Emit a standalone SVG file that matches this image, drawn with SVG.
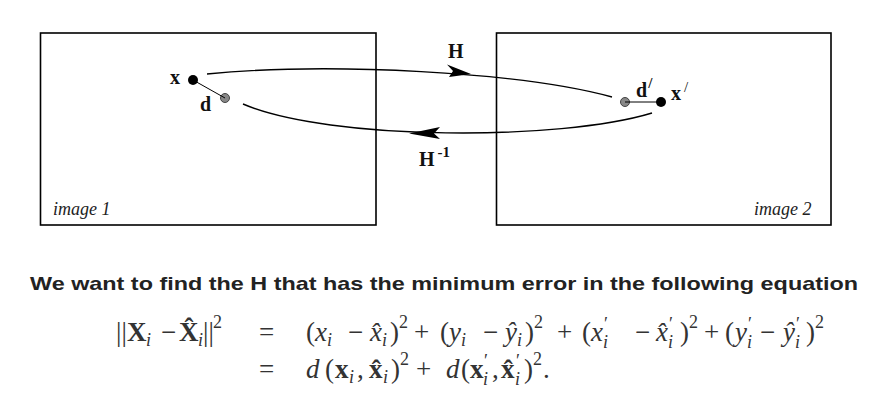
<svg xmlns="http://www.w3.org/2000/svg" width="881" height="406" viewBox="0 0 881 406">
<style>
.box{fill:none;stroke:#000;stroke-width:1.6}
.curve{fill:none;stroke:#000;stroke-width:1.4}
.lbl{font-family:"Liberation Serif","Times New Roman",serif;font-weight:bold;font-size:20px;fill:#111}
.img{font-family:"Liberation Serif","Times New Roman",serif;font-style:italic;font-size:18px;fill:#222}
.m text{font-family:"Liberation Serif","Times New Roman",serif;font-size:27px;fill:#333}
.m text.mi{font-style:italic}
.m text.mb{font-weight:bold}
.m text.sub{font-size:18px;font-style:italic}
.m text.sup{font-size:18px}
.si{font-style:italic}
</style>
<g id="image1">
<rect class="box" x="40.5" y="33" width="335.5" height="192"/>
<text class="img" x="53" y="215">image 1</text>
</g>
<g id="image2">
<rect class="box" x="496.5" y="33" width="334.5" height="192"/>
<text class="img" x="754" y="215">image 2</text>
</g>
<g id="point-x">
<circle cx="193" cy="80" r="5" fill="#000"/>
<text class="lbl" x="170" y="84" font-size="22">x</text>
</g>
<g id="point-d">
<circle cx="225" cy="98" r="4.5" fill="#888" stroke="#444" stroke-width="1"/>
<text class="lbl" x="200" y="111" font-weight="normal" font-size="22">d</text>
</g>
<g id="point-xp">
<circle cx="661" cy="102" r="5" fill="#000"/>
<text class="lbl" x="671" y="100" font-size="22">x<tspan font-weight="normal" font-size="15" dy="-8" dx="3">/</tspan></text>
</g>
<g id="point-dp">
<circle cx="625" cy="102" r="4.5" fill="#888" stroke="#444" stroke-width="1"/>
<text class="lbl" x="636" y="97" font-weight="normal" font-size="22">d<tspan font-size="15" dy="-9" dx="1">/</tspan></text>
</g>
<g id="connectors">
<line x1="193" y1="80" x2="225" y2="98" stroke="#000" stroke-width="1"/>
<line x1="625" y1="102" x2="661" y2="102" stroke="#000" stroke-width="1"/>
<path class="curve" d="M207,74 C330,62 520,72 612,97"/>
<path d="M471,74 L447,64.5 L453,71 L449,77 Z" fill="#000"/>
<path class="curve" d="M243,104 C330,141 560,141 652,113"/>
<path d="M409,133.5 L440,127 L434,133.5 L440,139 Z" fill="#000"/>
</g>
<g id="labels">
<text class="lbl" x="448" y="58">H</text>
<text class="lbl" x="419" y="166">H<tspan font-size="15" dy="-9" dx="3">-1</tspan></text>
</g>
<g id="caption">
<text x="30" y="290" font-family="Liberation Sans,Arial,sans-serif" font-weight="bold" font-size="19" fill="#222" textLength="828" lengthAdjust="spacingAndGlyphs">We want to find the H that has the minimum error in the following equation</text>
</g>
<g id="equation" class="m">
<text x="116" y="341">||</text>
<text x="127" y="341" class="mb">X</text>
<text x="146" y="346" class="sub">i</text>
<text x="161" y="341">−</text>
<text x="179" y="341" class="mb">X̂</text>
<text x="198" y="346" class="sub">i</text>
<text x="203" y="341">||</text>
<text x="213" y="328" class="sup">2</text>
<text x="259" y="341">=</text>
<text x="306" y="341">(</text>
<text x="315" y="341" class="mi">x</text>
<text x="327" y="346" class="sub">i</text>
<text x="348" y="341">−</text>
<text x="370" y="341" class="mi">x̂</text>
<text x="382" y="346" class="sub">i</text>
<text x="390" y="341">)</text>
<text x="399" y="328" class="sup">2</text>
<text x="414" y="341">+</text>
<text x="440" y="341">(</text>
<text x="449" y="341" class="mi">y</text>
<text x="461" y="346" class="sub">i</text>
<text x="483" y="341">−</text>
<text x="505" y="341" class="mi">ŷ</text>
<text x="517" y="346" class="sub">i</text>
<text x="525" y="341">)</text>
<text x="534" y="328" class="sup">2</text>
<text x="557" y="341">+</text>
<text x="582" y="341">(</text>
<text x="591" y="341" class="mi">x</text>
<text x="604" y="330" class="sup">′<tspan class="si" x="603" y="348">i</tspan></text>
<text x="635" y="341">−</text>
<text x="656" y="341" class="mi">x̂</text>
<text x="669" y="330" class="sup">′<tspan class="si" x="668" y="348">i</tspan></text>
<text x="680" y="341">)</text>
<text x="689" y="328" class="sup">2</text>
<text x="704" y="341">+</text>
<text x="725" y="341">(</text>
<text x="735" y="341" class="mi">y</text>
<text x="748" y="330" class="sup">′<tspan class="si" x="747" y="348">i</tspan></text>
<text x="760" y="341">−</text>
<text x="783" y="341" class="mi">ŷ</text>
<text x="796" y="330" class="sup">′<tspan class="si" x="795" y="348">i</tspan></text>
<text x="806" y="341">)</text>
<text x="815" y="328" class="sup">2</text>
<text x="259" y="378">=</text>
<text x="306" y="378" class="mi">d</text>
<text x="325" y="378">(</text>
<text x="335" y="378" class="mb">x</text>
<text x="349" y="383" class="sub">i</text>
<text x="357" y="378">,</text>
<text x="369" y="378" class="mb">x̂</text>
<text x="383" y="383" class="sub">i</text>
<text x="391" y="378">)</text>
<text x="400" y="365" class="sup">2</text>
<text x="416" y="378">+</text>
<text x="446" y="378" class="mi">d</text>
<text x="461" y="378">(</text>
<text x="470" y="378" class="mb">x</text>
<text x="484" y="367" class="sup">′<tspan class="si" x="483" y="385">i</tspan></text>
<text x="492" y="378">,</text>
<text x="501" y="378" class="mb">x̂</text>
<text x="516" y="367" class="sup">′<tspan class="si" x="515" y="385">i</tspan></text>
<text x="524" y="378">)</text>
<text x="533" y="365" class="sup">2</text>
<text x="543" y="378">.</text>
</g>
</svg>
